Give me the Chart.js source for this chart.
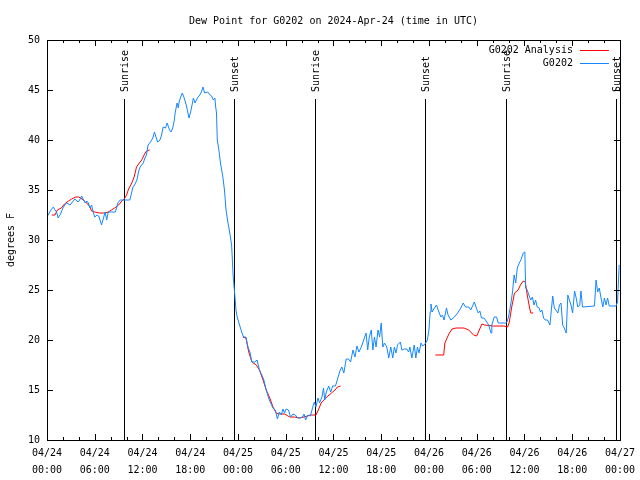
<!DOCTYPE html>
<html lang="en">
<head>
<meta charset="utf-8">
<title>Dew Point for G0202</title>
<script src="https://cdn.jsdelivr.net/npm/chart.js@4.4.1/dist/chart.umd.min.js"></script>
<style>
  body { margin: 0; background: #fff; }
  canvas { display: block; }
</style>
</head>
<body>
<canvas id="myChart" width="640" height="480"></canvas>
<script>
// hours since 2024-04-24 00:00 UTC
const obsHours = [0.0,0.2,0.5,0.8,1.0,1.2,1.4,1.7,2.0,2.3,2.5,2.9,3.2,3.5,3.9,4.1,4.35,4.6,4.8,5.0,5.2,5.4,5.6,5.8,6.0,6.3,6.5,6.7,6.85,7.1,7.3,7.5,7.7,8.1,8.6,8.9,9.2,9.7,10.4,10.6,10.8,11.0,11.3,11.5,11.7,12.1,12.3,12.5,12.7,13.0,13.3,13.5,13.7,13.9,14.2,14.4,14.6,14.9,15.1,15.4,15.6,15.8,16.0,16.1,16.35,16.5,16.6,16.8,17.0,17.2,17.5,17.85,18.1,18.4,18.6,18.9,19.2,19.4,19.6,19.8,20.2,20.5,20.7,20.9,21.1,21.2,21.3,21.4,21.6,21.8,22.1,22.3,22.5,22.75,23.05,23.2,23.4,23.6,23.75,23.9,24.2,24.5,24.7,25.0,25.25,25.5,25.75,26.1,26.4,26.7,27.0,27.25,27.55,27.85,28.1,28.4,28.7,28.95,29.2,29.45,29.65,29.85,30.05,30.35,30.6,30.9,31.2,31.5,31.8,32.1,32.3,32.5,32.8,33.1,33.4,33.6,33.8,34.05,34.25,34.55,34.75,34.9,35.1,35.4,35.65,35.9,36.25,36.55,36.85,37.05,37.3,37.6,37.9,38.15,38.45,38.7,38.95,39.2,39.5,39.8,40.1,40.3,40.5,40.75,40.95,41.15,41.35,41.6,41.8,42.0,42.2,42.4,42.7,42.95,43.2,43.45,43.65,43.85,44.05,44.4,44.6,44.9,45.2,45.45,45.6,45.85,46.15,46.35,46.55,46.75,47.0,47.2,47.5,47.8,48.0,48.15,48.25,48.4,48.6,48.95,49.2,49.5,49.7,49.9,50.2,50.4,50.75,51.2,51.6,52.0,52.3,52.6,53.0,53.25,53.7,53.95,54.2,54.4,54.6,54.9,55.1,55.5,55.8,55.9,56.2,56.5,56.7,57.2,57.6,57.8,58.0,58.3,58.5,58.7,58.9,59.1,59.35,59.55,59.85,60.05,60.15,60.35,60.55,60.8,61.0,61.2,61.4,61.6,61.85,62.0,62.2,62.4,62.6,62.9,63.2,63.55,63.75,63.95,64.2,64.4,64.6,64.8,65.0,65.25,65.45,65.65,65.85,66.05,66.3,66.5,66.7,66.95,67.1,67.3,68.8,69.0,69.2,69.4,69.6,69.85,70.05,70.25,70.45,70.65,71.5,71.7,71.9];
const obsDew = [32.3,32.6,33.0,33.3,33.0,32.8,32.2,32.6,33.2,33.6,33.7,33.5,33.8,34.1,33.8,34.0,34.4,34.0,33.7,33.9,33.7,33.2,33.5,32.8,32.3,32.5,32.4,31.9,31.5,32.2,32.8,32.0,32.8,32.8,32.8,33.7,34.0,34.0,34.0,34.6,35.3,35.5,36.0,36.8,37.3,37.7,38.2,38.5,39.5,39.8,40.2,40.8,40.3,39.8,40.0,40.5,41.3,41.2,41.7,41.0,40.8,41.2,42.0,42.7,43.7,43.2,43.8,44.3,44.7,44.3,43.5,42.2,43.0,44.2,43.7,44.2,44.5,44.8,45.3,44.7,44.8,44.5,44.4,44.0,44.2,43.3,42.7,40.0,39.0,37.7,36.3,35.0,33.0,31.7,30.3,29.5,26.3,24.5,23.0,22.3,21.5,20.7,20.3,20.3,19.3,18.8,17.8,17.8,18.0,17.0,16.5,16.0,15.0,14.2,13.7,13.2,13.0,12.1,12.8,12.5,13.1,12.7,13.1,13.0,12.3,12.6,12.5,12.2,12.2,12.3,12.6,12.0,12.5,12.4,13.3,13.8,13.3,14.2,13.7,14.3,15.2,14.0,14.8,15.4,14.8,15.4,15.4,16.2,17.0,17.3,16.7,18.1,18.1,17.8,19.0,18.3,19.4,18.8,19.3,20.0,20.7,19.0,20.3,21.0,19.0,20.3,19.3,21.0,20.3,21.7,19.3,19.7,19.3,18.2,19.3,18.2,19.3,18.7,19.5,19.8,19.0,19.1,19.1,18.8,19.3,18.2,19.5,18.2,19.3,18.7,19.7,19.4,19.6,20.0,21.0,22.8,23.6,22.8,23.1,23.5,22.9,22.3,22.5,22.0,23.2,22.5,22.0,22.3,22.7,23.2,23.7,23.3,23.3,23.0,23.8,23.2,22.7,22.9,22.2,22.2,22.0,21.5,20.7,21.5,22.3,22.3,21.7,21.7,21.7,21.8,22.3,23.7,24.8,26.5,25.7,27.2,27.7,28.0,28.7,28.8,25.2,25.0,24.5,24.0,24.3,23.5,24.0,23.3,23.2,22.8,23.0,22.2,22.0,22.0,21.5,24.4,23.2,23.0,22.7,23.5,23.7,21.5,21.2,20.7,24.5,24.0,23.5,22.7,24.9,24.2,23.3,23.5,24.9,23.3,23.4,26.0,24.8,25.2,24.3,23.3,24.2,23.5,24.2,23.4,23.4,23.8,27.5];

// analysis runs in three pieces; null breaks the line
const anaHours = [0.6,1.0,1.3,1.8,2.2,2.7,3.1,3.6,4.0,4.4,4.85,5.1,5.4,5.6,6.0,6.6,7.3,7.7,8.1,8.5,9.0,9.4,9.7,10.0,10.25,10.6,10.95,11.25,11.6,11.9,12.2,12.5,12.9,
  18,
  24.6,25.0,25.35,25.75,26.3,26.7,27.15,27.55,28.0,28.4,28.8,29.2,29.85,30.5,31.1,31.7,32.3,32.7,33.15,33.8,34.1,34.45,34.9,35.3,35.75,36.2,36.5,36.9,
  42,
  48.8,49.85,50.0,50.5,50.9,51.4,52.4,53.0,53.6,54.0,54.65,55.0,56.0,57.4,57.9,58.1,58.4,58.75,59.2,59.5,59.85,60.1,60.35,60.65,60.8,61.1];
const anaDew = [32.5,32.5,33.0,33.2,33.6,33.9,34.1,34.3,34.3,34.1,33.8,33.6,33.3,32.9,32.8,32.7,32.7,32.8,33.0,33.2,33.5,33.9,34.1,34.5,35.1,35.6,36.3,37.3,37.7,38.0,38.5,38.9,39.0,
  null,
  20.3,20.2,18.8,17.8,17.5,17.0,16.0,15.0,14.2,13.3,12.7,12.6,12.6,12.3,12.3,12.2,12.3,12.4,12.5,12.5,13.0,13.7,14.1,14.4,14.7,15.0,15.3,15.4,
  null,
  18.5,18.5,19.7,20.6,21.1,21.2,21.2,21.0,20.5,20.4,21.6,21.5,21.4,21.4,21.3,21.8,23.3,24.7,25.0,25.5,25.9,25.8,24.5,23.2,22.7,22.7];

const sunHours = [9.7, 23.5, 33.66, 47.45, 57.74, 71.54];
const sunLabels = ['Sunrise', 'Sunset', 'Sunrise', 'Sunset', 'Sunrise', 'Sunset'];

const tickDays = ['04/24','04/24','04/24','04/24','04/25','04/25','04/25','04/25','04/26','04/26','04/26','04/26','04/27'];
const tickTimes = ['00:00','06:00','12:00','18:00','00:00','06:00','12:00','18:00','00:00','06:00','12:00','18:00','00:00'];

const seriesNames = ['G0202 Analysis', 'G0202'];
const seriesColors = ['#ff0000', '#1487ff'];

const FONT = '"DejaVu Sans Mono", "Liberation Mono", monospace';

const toPoints = (xs, ys) => xs.map((h, i) => ({x: h, y: ys[i]}));

// sunrise / sunset markers
const sunMarks = {
  id: 'sunMarks',
  beforeDatasetsDraw(chart) {
    const {ctx, chartArea: a, scales: {x}} = chart;
    ctx.save();
    ctx.strokeStyle = '#000';
    ctx.fillStyle = '#000';
    ctx.lineWidth = 1;
    ctx.font = '10px ' + FONT;
    sunHours.forEach((h, i) => {
      const px = Math.round(x.getPixelForValue(h)) + 0.5;
      ctx.beginPath();
      ctx.moveTo(px, a.top + 59);
      ctx.lineTo(px, a.bottom);
      ctx.stroke();
      ctx.save();
      ctx.translate(px + 1, a.top + 52);
      ctx.rotate(-Math.PI / 2);
      ctx.textAlign = 'left';
      ctx.textBaseline = 'middle';
      ctx.fillText(sunLabels[i], 0, 0);
      ctx.restore();
    });
    ctx.restore();
  }
};

// gnuplot style frame with inward ticks
const frameTicks = {
  id: 'frameTicks',
  afterDatasetsDraw(chart) {
    const {ctx, chartArea: a, scales: {x, y}} = chart;
    ctx.save();
    ctx.strokeStyle = '#000';
    ctx.lineWidth = 1;
    ctx.beginPath();
    for (let h = x.min; h <= x.max; h += 2) {
      const px = Math.round(x.getPixelForValue(h)) + 0.5;
      const len = h % 6 === 0 ? 6 : 3;
      ctx.moveTo(px, a.bottom); ctx.lineTo(px, a.bottom - len);
      ctx.moveTo(px, a.top); ctx.lineTo(px, a.top + len);
    }
    y.ticks.forEach(t => {
      const py = Math.round(y.getPixelForValue(t.value)) + 0.5;
      ctx.moveTo(a.left, py); ctx.lineTo(a.left + 6, py);
      ctx.moveTo(a.right, py); ctx.lineTo(a.right - 6, py);
    });
    ctx.stroke();
    ctx.strokeRect(Math.round(a.left) + 0.5, Math.round(a.top) + 0.5,
      Math.round(a.right - a.left), Math.round(a.bottom - a.top));
    ctx.restore();
  }
};

// key in the top right corner, text first then line sample
const keyBox = {
  id: 'keyBox',
  afterDraw(chart) {
    const {ctx, chartArea: a} = chart;
    ctx.save();
    ctx.font = '10px ' + FONT;
    ctx.textAlign = 'right';
    ctx.textBaseline = 'middle';
    ctx.lineWidth = 1;
    seriesNames.forEach((name, i) => {
      const yy = Math.round(a.top + 10 + i * 12.5) + 0.5;
      ctx.fillStyle = '#000';
      ctx.fillText(name, a.right - 47, yy);
      ctx.strokeStyle = seriesColors[i];
      ctx.beginPath();
      ctx.moveTo(a.right - 40, yy);
      ctx.lineTo(a.right - 11, yy);
      ctx.stroke();
    });
    ctx.restore();
  }
};

new Chart(document.getElementById('myChart'), {
  type: 'line',
  data: {
    datasets: [{
      label: seriesNames[0],
      data: toPoints(anaHours, anaDew),
      borderColor: seriesColors[0],
      borderWidth: 1,
      pointRadius: 0,
      tension: 0,
      spanGaps: false,
      order: 1
    }, {
      label: seriesNames[1],
      data: toPoints(obsHours, obsDew),
      borderColor: seriesColors[1],
      borderWidth: 1,
      pointRadius: 0,
      tension: 0,
      order: 0
    }]
  },
  options: {
    responsive: false,
    animation: false,
    layout: { padding: { left: 0, right: 19, top: 0, bottom: 0 } },
    plugins: {
      legend: { display: false },
      tooltip: { enabled: false },
      title: {
        display: true,
        fullSize: false,
        text: 'Dew Point for G0202 on 2024-Apr-24 (time in UTC)',
        color: '#000',
        font: { family: FONT, size: 10, weight: 'normal' },
        padding: { top: 15, bottom: 13 }
      }
    },
    scales: {
      x: {
        type: 'linear',
        min: 0,
        max: 72,
        grid: { display: false, drawTicks: false },
        border: { display: false },
        ticks: {
          stepSize: 6,
          autoSkip: false,
          maxRotation: 0,
          color: '#000',
          padding: 5,
          font: { family: FONT, size: 10, lineHeight: 1.7 },
          callback: v => [tickDays[v / 6], tickTimes[v / 6]]
        },
        afterFit: s => { s.height = 40; }
      },
      y: {
        min: 10,
        max: 50,
        grid: { display: false, drawTicks: false },
        border: { display: false },
        ticks: {
          stepSize: 5,
          color: '#000',
          padding: 7,
          font: { family: FONT, size: 10 }
        },
        title: {
          display: true,
          text: 'degrees F',
          color: '#000',
          font: { family: FONT, size: 10 },
          padding: { top: 5, bottom: 0 }
        },
        afterFit: s => { s.width = 47; }
      }
    }
  },
  plugins: [sunMarks, frameTicks, keyBox]
});
</script>
</body>
</html>
